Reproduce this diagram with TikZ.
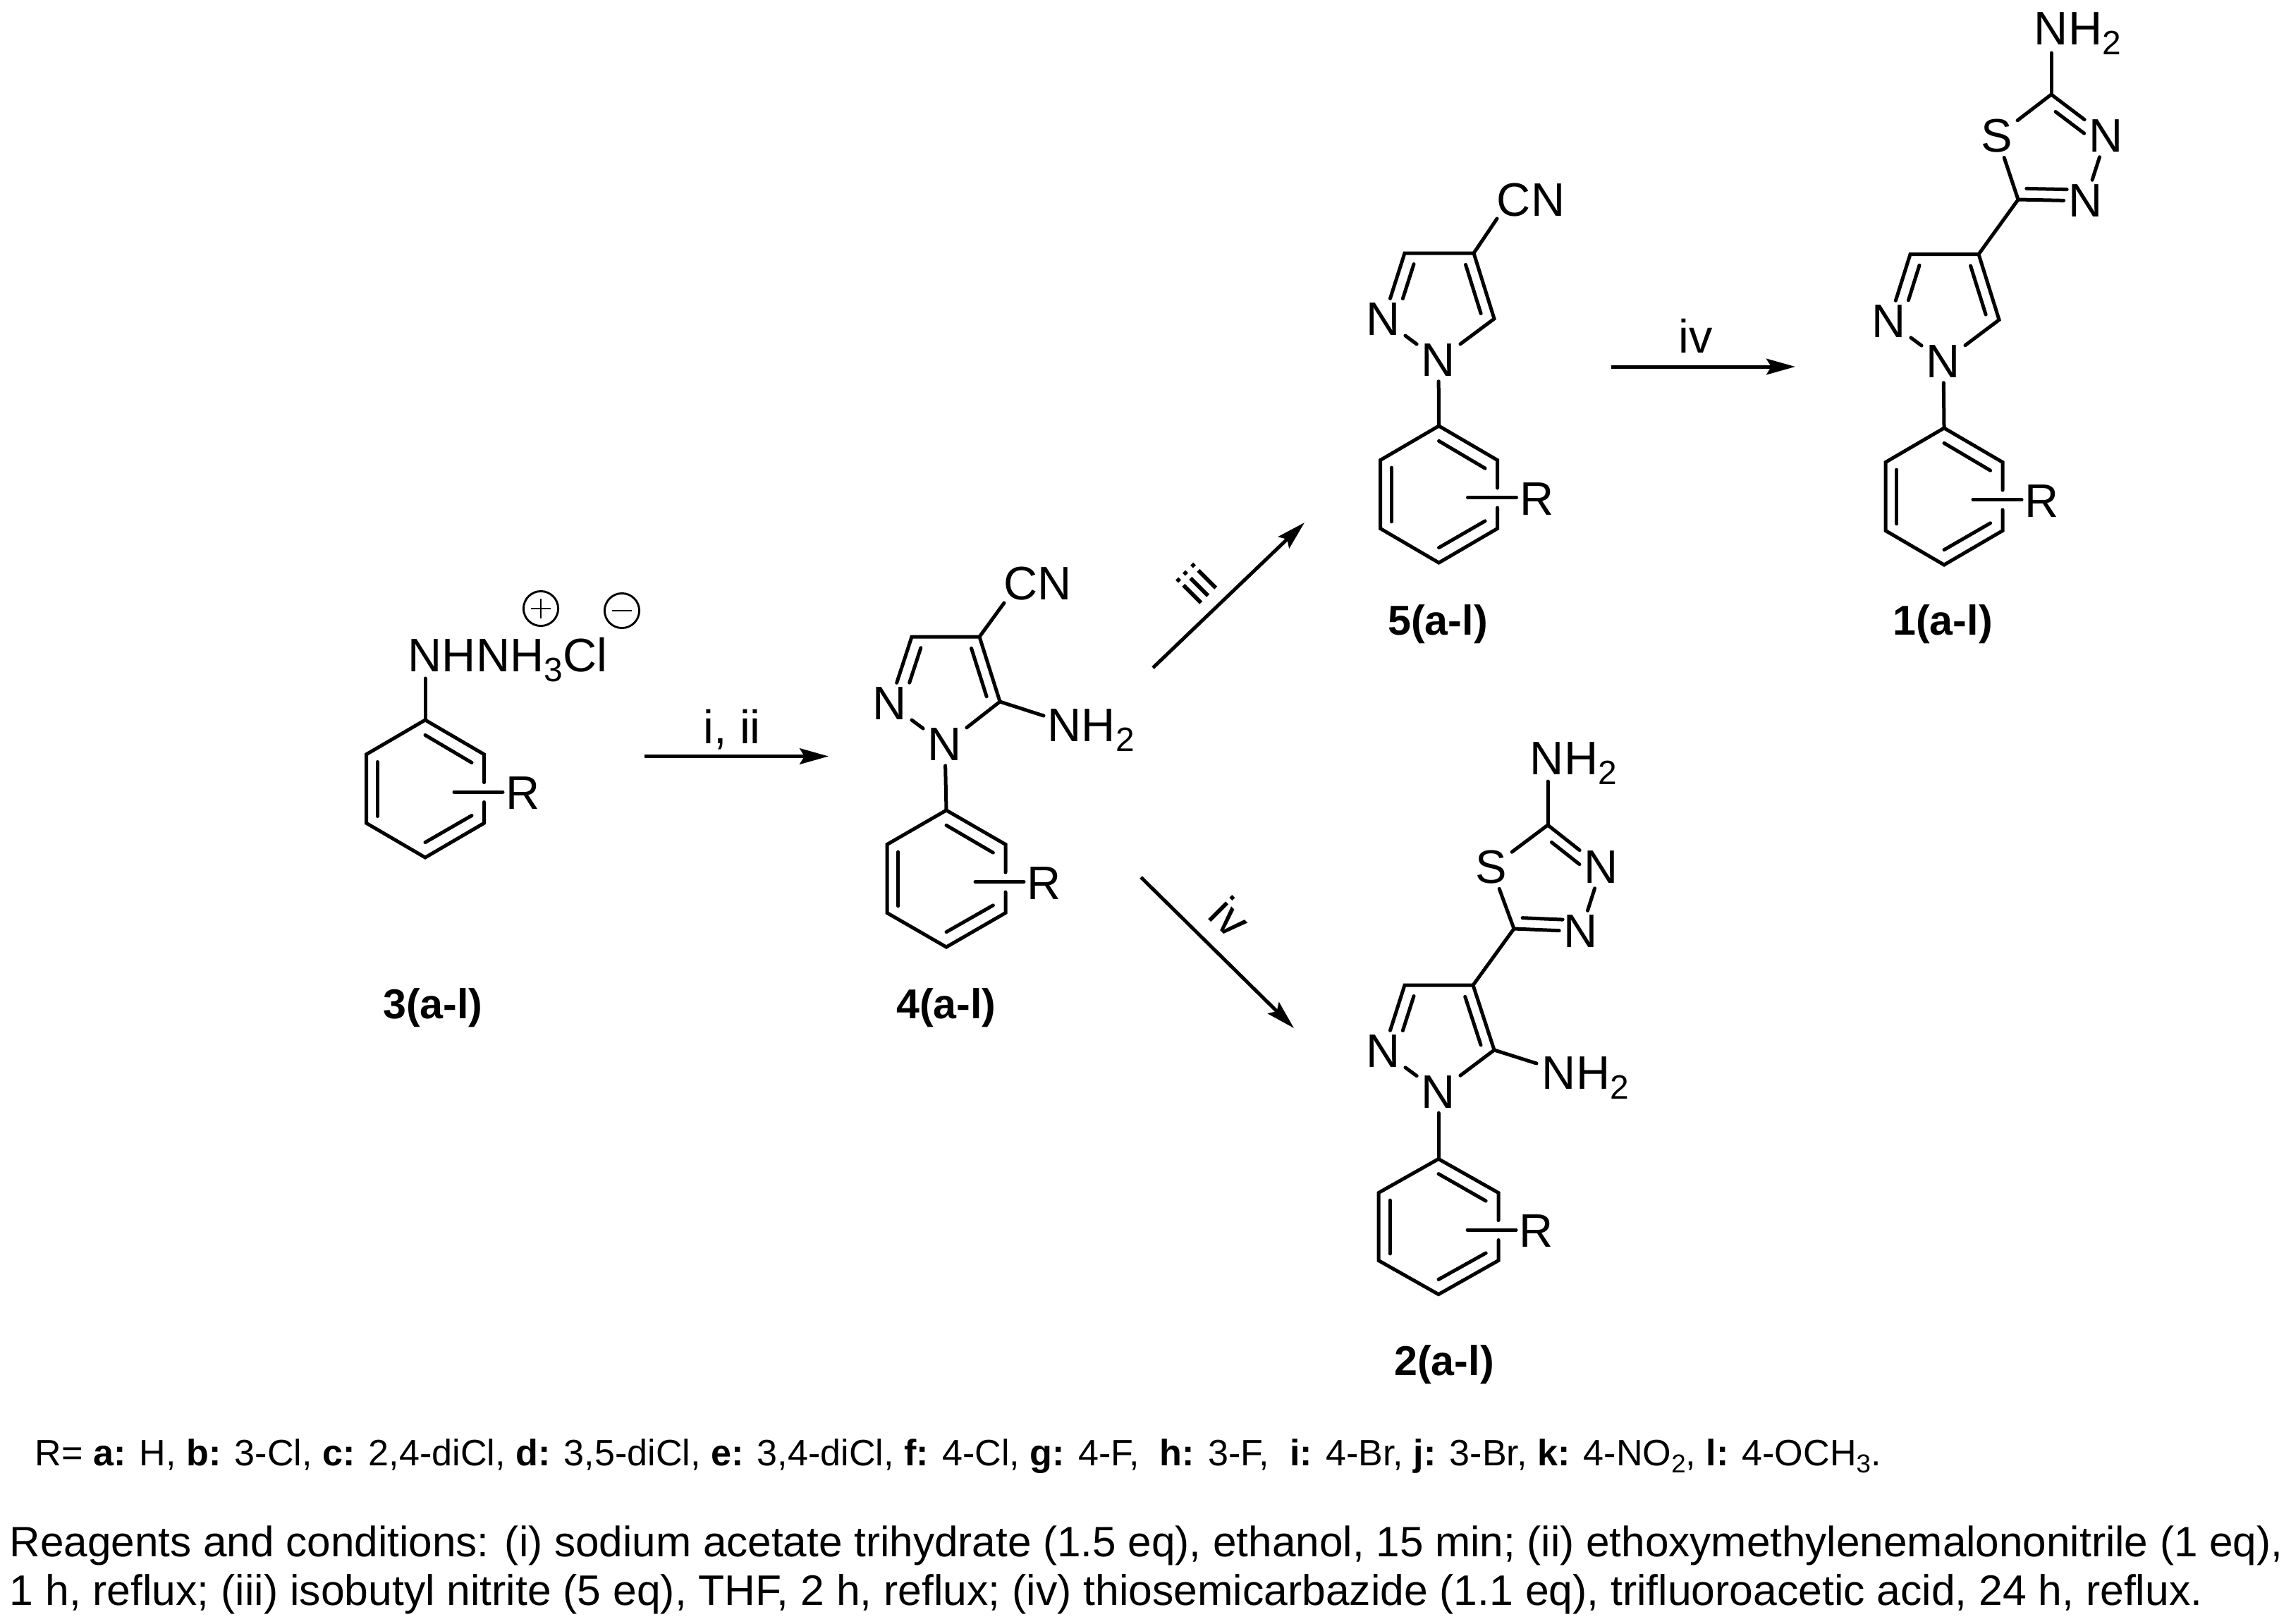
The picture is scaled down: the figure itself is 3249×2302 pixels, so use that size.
\documentclass[tikz,border=0pt]{standalone}
\usepackage{fontspec}
\setmainfont{Liberation Sans}
\usetikzlibrary{calc,arrows.meta}
\newcommand\labfont{\fontsize{16}{18}\selectfont}
\newcommand\chemsub[1]{\raisebox{-3.4pt}{\fontsize{11.5}{12}\selectfont #1}}
\newcommand\notesub[1]{\raisebox{-2.6pt}{\fontsize{8.8}{10}\selectfont #1}}
\tikzset{
  bond/.style={line width=1.2pt,line join=miter,line cap=round},
  atomlab/.style={inner sep=1.44pt,font=\labfont},
  freelab/.style={inner sep=0pt,anchor=base west,font=\labfont},
  cmpd/.style={inner sep=0pt,anchor=base,font=\fontsize{14.2}{16}\selectfont\bfseries},
  rxn/.style={line width=1.2pt,-{Stealth[length=9.8pt,width=5.4pt,inset=1.6pt]}},
  charge/.style={circle,draw,line width=0.7pt,inner sep=0pt,minimum size=11.8pt},
  notes/.style={inner sep=0pt,anchor=base west}
}
% inner line of a double bond: from, to, start fraction, end fraction, offset
\newcommand\dbl[5]{\draw[bond] ($(#1)!#3!(#2)!#5!90:(#2)$) -- ($(#1)!#4!(#2)!#5!90:(#2)$);}
% benzene ring with an R substituent: prefix, cx, cy, half width, half height
\newcommand\phenylR[5]{%
  \begin{scope}[shift={(#2,#3)}]
    \begin{scope}[xscale=#4,yscale=#5]
      \coordinate (#1t) at (0,-1);
      \coordinate (#1ur) at (1,-.5);
      \coordinate (#1lr) at (1,.5);
      \coordinate (#1b) at (0,1);
      \coordinate (#1ll) at (-1,.5);
      \coordinate (#1ul) at (-1,-.5);
      \coordinate (#1ga) at (1,{-9/#5});
      \coordinate (#1gb) at (1,{19/#5});
      \draw[bond] (0,-.78) -- (.79,-.38);
      \draw[bond] (-.81,-.39) -- (-.81,.4);
      \draw[bond] (0,.78) -- (.79,.39);
    \end{scope}
    \draw[bond] (#1ga) -- (#1ur) -- (#1t) -- (#1ul) -- (#1ll) -- (#1b) -- (#1lr) -- (#1gb);
    \coordinate (#1ra) at (41,4.5);
    \coordinate (#1rb) at (110,4.5);
    \draw[bond] (#1ra) -- (#1rb);
    \node[freelab] (#1R) at (114,29) {R};
  \end{scope}}
% pyrazole: prefix, N1, N2, C3, C4, C5
\newcommand\pyrazole[6]{%
  \node[atomlab] (#1n1) at (#2) {N};
  \node[atomlab] (#1n2) at (#3) {N};
  \coordinate (#1c3) at (#4);
  \coordinate (#1c4) at (#5);
  \coordinate (#1c5) at (#6);
  \draw[bond] (#1n2) -- (#1n1) -- (#1c5) -- (#1c4) -- (#1c3) -- (#1n2);
  \dbl{#1c3}{#1n2}{.11}{.63}{4.1pt}
  \dbl{#1c4}{#1c5}{.125}{.87}{-3.8pt}
  \draw[bond] (#1n1) -- (#1t);
}
% thiadiazole: prefix, C5', S, C2', N3', N4', amine bond end
\newcommand\thiadiazole[7]{%
  \coordinate (#1d5) at (#2);
  \node[atomlab] (#1s) at (#3) {S};
  \coordinate (#1d2) at (#4);
  \node[atomlab] (#1n3) at (#5) {N};
  \node[atomlab] (#1n4) at (#6) {N};
  \coordinate (#1am) at (#7);
  \draw[bond] (#1d5) -- (#1s) -- (#1d2) -- (#1n3) -- (#1n4) -- (#1d5);
  \dbl{#1d2}{#1n3}{.2}{.72}{-3.8pt}
  \dbl{#1d5}{#1n4}{.12}{.72}{3.8pt}
  \draw[bond] (#1d2) -- (#1am);
  \draw[bond] (#1c4) -- (#1d5);
}
\begin{document}
\begin{tikzpicture}[x=0.24pt,y=-0.24pt]
\useasboundingbox (0,0) rectangle (3249,2302);

% --- 3
\phenylR{a}{603}{1118.5}{83.5}{97.5}
\coordinate (anh) at (603,962);
\draw[bond] (at) -- (anh);
\node[freelab] (asalt) at (578,952) {NHNH\chemsub{3}Cl};
\node[charge] (plus) at (767,863) {};
\draw[line width=0.7pt] ($(plus.center)+(-14,0)$) -- ($(plus.center)+(14,0)$);
\draw[line width=0.7pt] ($(plus.center)+(0,-14)$) -- ($(plus.center)+(0,14)$);
\node[charge] (minus) at (882,866) {};
\draw[line width=0.7pt] ($(minus.center)+(-14,0)$) -- ($(minus.center)+(14,0)$);
\node[cmpd] (l3) at (614,1444) {3(a-l)};

% --- 4
\phenylR{b}{1342}{1246}{84}{97}
\pyrazole{b}{1340,1056}{1262,998}{1293,903}{1389,903}{1418,995}
\coordinate (bcn) at (1424,855);
\draw[bond] (bc4) -- (bcn);
\node[freelab] (bcnl) at (1423,850) {CN};
\coordinate (bamb) at (1480,1015);
\draw[bond] (bc5) -- (bamb);
\node[freelab] (baml) at (1485,1051) {NH\chemsub{2}};
\node[cmpd] (l4) at (1342,1444) {4(a-l)};

% --- 5
\phenylR{c}{2040.5}{701}{83}{97}
\pyrazole{c}{2040,511}{1962,453}{1992,359}{2090,359}{2119,452}
\coordinate (ccn) at (2123,310);
\draw[bond] (cc4) -- (ccn);
\node[freelab] (ccnl) at (2122,306) {CN};
\node[cmpd] (l5) at (2039,900) {5(a-l)};

% --- 1
\phenylR{d}{2757}{704}{83}{97}
\pyrazole{d}{2756,513}{2679,456}{2709,360.5}{2806,360.5}{2835,453.5}
\thiadiazole{d}{2862,283}{2832,193}{2909,134}{2987,193}{2957.5,285}{2909,75}
\node[freelab] (daml) at (2884,63) {NH\chemsub{2}};
\node[cmpd] (l1) at (2755,900) {1(a-l)};

% --- 2
\phenylR{e}{2040}{1739.5}{85}{96}
\pyrazole{e}{2040,1548.5}{1962,1491}{1992,1397}{2089,1397}{2119,1489}
\thiadiazole{e}{2147,1317}{2115,1230}{2195,1170}{2271,1230}{2242,1321}{2195,1108}
\node[freelab] (eaml) at (2169,1098) {NH\chemsub{2}};
\coordinate (eamb) at (2179,1508);
\draw[bond] (ec5) -- (eamb);
\node[freelab] (eam5) at (2186,1544) {NH\chemsub{2}};
\node[cmpd] (l2) at (2048,1950) {2(a-l)};

% --- arrows
\coordinate (r1a) at (914,1072.5);
\coordinate (r1b) at (1175,1072.5);
\draw[rxn] (r1a) -- (r1b);
\node[freelab,anchor=base] (r1t) at (1038,1054) {i, ii};
\coordinate (r2a) at (2285,520);
\coordinate (r2b) at (2546,520);
\draw[rxn] (r2a) -- (r2b);
\node[freelab,anchor=base] (r2t) at (2405,500) {iv};
\coordinate (r3a) at (1635,947);
\coordinate (r3b) at (1850,741);
\draw[rxn] (r3a) -- (r3b);
\node[inner sep=0pt,font=\labfont,rotate=45] (r3t) at (1697,828) {iii};
\coordinate (r4a) at (1618,1244);
\coordinate (r4b) at (1835,1458);
\draw[rxn] (r4a) -- (r4b);
\node[inner sep=0pt,font=\labfont,rotate=-45] (r4t) at (1745,1300) {iv};

% --- notes
\node[notes,font=\fontsize{12.5}{15}\selectfont] (nr) at (49,2078) {R= \textbf{a:} H, \textbf{b:} 3-Cl, \textbf{c:} 2,4-diCl, \textbf{d:} 3,5-diCl, \textbf{e:} 3,4-diCl, \textbf{f:} 4-Cl, \textbf{g:} 4-F, \ \textbf{h:} 3-F, \ \textbf{i:} 4-Br, \textbf{j:} 3-Br, \textbf{k:} 4-NO\notesub{2}, \textbf{l:} 4-OCH\notesub{3}.};
\node[notes,font=\fontsize{14.46}{17}\selectfont] (n1) at (13,2207) {Reagents and conditions: (i) sodium acetate trihydrate (1.5 eq), ethanol, 15 min; (ii) ethoxymethylenemalononitrile (1 eq),};
\node[notes,font=\fontsize{14.55}{17}\selectfont] (n2) at (13,2276) {1 h, reflux; (iii) isobutyl nitrite (5 eq), THF, 2 h, reflux; (iv) thiosemicarbazide (1.1 eq), trifluoroacetic acid, 24 h, reflux.};
\end{tikzpicture}
\end{document}
